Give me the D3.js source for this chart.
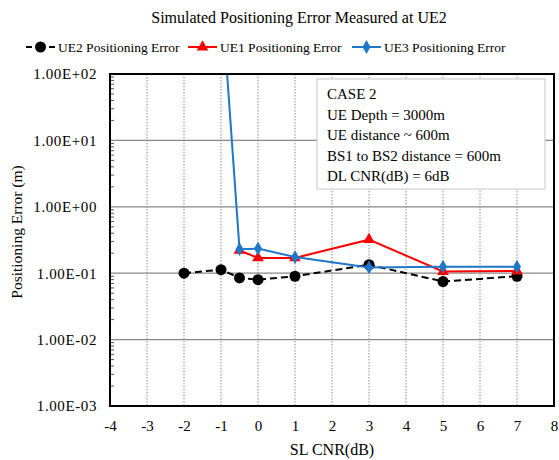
<!DOCTYPE html>
<html>
<head>
<meta charset="utf-8">
<script src="https://cdn.jsdelivr.net/npm/d3@7"></script>
<style>
  body { margin: 0; background: #fff; }
</style>
</head>
<body>
<div id="chart"></div>
<script>
// data
const xTicks = [-4, -3, -2, -1, 0, 1, 2, 3, 4, 5, 6, 7, 8];
const yTicks = [1e-3, 1e-2, 1e-1, 1e0, 1e1, 1e2];

const ue2X = [-2, -1, -0.5, 0, 1, 3, 5, 7];
const ue2Y = [0.100, 0.113, 0.085, 0.080, 0.090, 0.134, 0.075, 0.090];

const ue1X = [-0.5, 0, 1, 3, 5, 7];
const ue1Y = [0.22, 0.17, 0.17, 0.32, 0.106, 0.108];

const ue3X = [-1, -0.5, 0, 1, 3, 5, 7];
const ue3Y = [2000, 0.23, 0.235, 0.175, 0.122, 0.125, 0.125];

const boxLines = [
  "CASE 2",
  "UE Depth = 3000m",
  "UE distance ~ 600m",
  "BS1 to BS2 distance = 600m",
  "DL CNR(dB) = 6dB"
];

const series = [
  { name: "UE2 Positioning Error", xs: ue2X, ys: ue2Y, color: "#000", dash: "7,4", marker: "circle" },
  { name: "UE1 Positioning Error", xs: ue1X, ys: ue1Y, color: "#ff0000", dash: null, marker: "triangle" },
  { name: "UE3 Positioning Error", xs: ue3X, ys: ue3Y, color: "#1f77c8", dash: null, marker: "diamond" }
];

const FONT = '"Liberation Serif", "Times New Roman", Times, serif';

const width = 559, height = 460;
const margin = { top: 74, right: 5, bottom: 54, left: 110 };
const w = width - margin.left - margin.right,
      h = height - margin.top - margin.bottom;

const svg = d3.select("#chart").append("svg")
  .attr("width", width)
  .attr("height", height)
  .attr("font-family", FONT);

const g = svg.append("g")
  .attr("transform", `translate(${margin.left}, ${margin.top})`);

const xScale = d3.scaleLinear().domain([-4, 8]).range([0, w]);
const yScale = d3.scaleLog().domain([1e-3, 1e2]).range([h, 0]);

g.append("clipPath").attr("id", "clip")
  .append("rect").attr("width", w).attr("height", h);

// vertical dotted grid
g.append("g").selectAll("line")
  .data(xTicks.slice(1, -1))
  .join("line")
    .attr("x1", d => xScale(d)).attr("x2", d => xScale(d))
    .attr("y1", 0).attr("y2", h)
    .attr("stroke", "#888")
    .attr("stroke-width", 1)
    .attr("stroke-dasharray", "1.5,1.5");

// horizontal grid at each decade
g.append("g").selectAll("line")
  .data(yTicks.slice(1, -1))
  .join("line")
    .attr("x1", 0).attr("x2", w)
    .attr("y1", d => yScale(d)).attr("y2", d => yScale(d))
    .attr("stroke", "#888")
    .attr("stroke-width", 1.2);

// minor log ticks on the left, drawn inward
const minor = [];
yTicks.slice(0, -1).forEach(dec => {
  for (let k = 2; k <= 9; k++) minor.push(dec * k);
});
g.append("g").selectAll("line")
  .data(minor)
  .join("line")
    .attr("x1", 0).attr("x2", 4)
    .attr("y1", d => yScale(d)).attr("y2", d => yScale(d))
    .attr("stroke", "#555")
    .attr("stroke-width", 1);

// axes labels
const xAxis = d3.axisBottom(xScale).tickValues(xTicks).tickSize(0).tickPadding(14)
  .tickFormat(d => String(d));
g.append("g")
  .attr("transform", `translate(0, ${h})`)
  .call(xAxis)
  .attr("font-family", FONT)
  .attr("font-size", 15)
  .call(s => s.select(".domain").remove());

const yAxis = d3.axisLeft(yScale).tickValues(yTicks).tickSize(0).tickPadding(13)
  .tickFormat(d => {
    const e = Math.round(Math.log10(d));
    return "1.00E" + (e < 0 ? "-" : "+") + String(Math.abs(e)).padStart(2, "0");
  });
g.append("g")
  .call(yAxis)
  .attr("font-family", FONT)
  .attr("font-size", 15)
  .call(s => s.select(".domain").remove())
  .selectAll("text")
    .attr("letter-spacing", 0.6);

// series
const plotArea = g.append("g").attr("clip-path", "url(#clip)");
const line = d3.line().x(d => xScale(d[0])).y(d => yScale(d[1]));

const symbolFor = {
  circle: d3.symbol().type(d3.symbolCircle).size(95),
  triangle: d3.symbol().type(d3.symbolTriangle).size(60),
  diamond: d3.symbol().type(d3.symbolDiamond).size(55)
};

series.forEach(s => {
  const pts = s.xs.map((x, i) => [x, s.ys[i]]);
  plotArea.append("path")
    .datum(pts)
    .attr("d", line)
    .attr("fill", "none")
    .attr("stroke", s.color)
    .attr("stroke-width", 2)
    .attr("stroke-dasharray", s.dash);
  plotArea.selectAll(null)
    .data(pts)
    .join("path")
      .attr("transform", d => `translate(${xScale(d[0])}, ${yScale(d[1])})`)
      .attr("d", symbolFor[s.marker])
      .attr("fill", s.color);
});

// plot border
g.append("rect")
  .attr("width", w).attr("height", h)
  .attr("fill", "none")
  .attr("stroke", "#000")
  .attr("stroke-width", 2);

// annotation box
const box = g.append("g").attr("transform", "translate(207, 5)");
box.append("rect")
  .attr("width", 228).attr("height", 110)
  .attr("fill", "#fff")
  .attr("stroke", "#d0d0d0")
  .attr("stroke-width", 1.2);
box.selectAll("text")
  .data(boxLines)
  .join("text")
    .attr("x", 10)
    .attr("y", (d, i) => 20 + i * 20.5)
    .attr("font-size", 15)
    .text(d => d);

// titles
svg.append("text")
  .attr("x", 299).attr("y", 23)
  .attr("text-anchor", "middle")
  .attr("font-size", 16)
  .text("Simulated Positioning Error Measured at UE2");

svg.append("text")
  .attr("x", margin.left + w / 2).attr("y", 455)
  .attr("text-anchor", "middle")
  .attr("font-size", 16)
  .text("SL CNR(dB)");

svg.append("text")
  .attr("transform", `translate(22, ${margin.top + h / 2 - 8}) rotate(-90)`)
  .attr("text-anchor", "middle")
  .attr("font-size", 15.5)
  .text("Positioning Error (m)");

// legend
const legendX = [26, 188, 352];
const legend = svg.append("g").attr("transform", "translate(0, 47)");
series.forEach((s, i) => {
  const row = legend.append("g").attr("transform", `translate(${legendX[i]}, 0)`);
  row.append("line")
    .attr("x1", 0).attr("x2", 29)
    .attr("stroke", s.color)
    .attr("stroke-width", 2)
    .attr("stroke-dasharray", s.dash ? "6,17" : null);
  row.append("path")
    .attr("transform", "translate(14.5, 0)")
    .attr("d", symbolFor[s.marker])
    .attr("fill", s.color);
  row.append("text")
    .attr("x", 32).attr("y", 4.5)
    .attr("font-size", 13.5)
    .text(s.name);
});
</script>
</body>
</html>
